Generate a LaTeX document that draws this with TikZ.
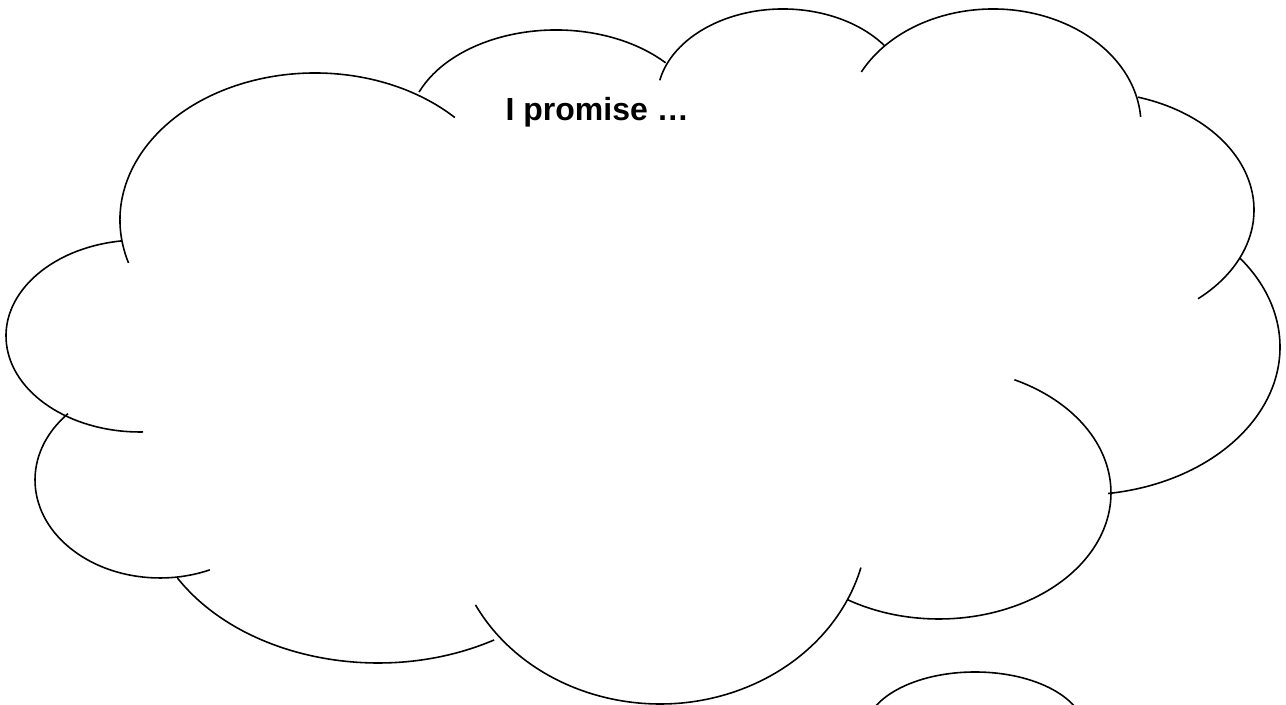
\documentclass[tikz,border=0pt]{standalone}
\usepackage{fontspec}
\setmainfont{Liberation Sans}

\begin{document}
\begin{tikzpicture}[font=\fontsize{9.1}{11}\selectfont\bfseries,
  cl/.style={draw=black, line width=0.45pt},
  bub/.style={draw=black, line width=0.45pt}]
\useasboundingbox (0,0) rectangle (12.86,7.05);
\clip (0,0) rectangle (12.86,7.05);
% lobes of the cloud, left side going round
\draw[cl] (1.40,3.69) ++(97.7:1.34 and 0.96) arc[start angle=97.7, end angle=271.3, x radius=1.34, y radius=0.96];
\draw[cl] (1.60,2.25) ++(137.4:1.25 and 0.98) arc[start angle=137.4, end angle=293.5, x radius=1.25, y radius=0.98];
\draw[cl] (3.78,2.15) ++(210.6:2.33 and 1.73) arc[start angle=210.6, end angle=299.9, x radius=2.33, y radius=1.73];
\draw[cl] (6.60,1.85) ++(207.5:2.08 and 1.84) arc[start angle=207.5, end angle=345, x radius=2.08, y radius=1.84];
\draw[cl] (9.39,2.12) ++(237.8:1.72 and 1.26) arc[start angle=237.8, end angle=424, x radius=1.72, y radius=1.26];
\draw[cl] (10.80,3.58) ++(278.1:2.00 and 1.48) arc[start angle=278.1, end angle=397, x radius=2.00, y radius=1.48];
\draw[cl] (10.90,4.95) ++(73:1.64 and 1.18) arc[start angle=73, end angle=-48.8, x radius=1.64, y radius=1.18];
\draw[cl] (9.93,5.80) ++(152.8:1.48 and 1.16) arc[start angle=152.8, end angle=4, x radius=1.48, y radius=1.16];
\draw[cl] (7.83,6.06) ++(168:1.26 and 0.90) arc[start angle=168, end angle=36, x radius=1.26, y radius=0.90];
\draw[cl] (5.56,5.75) ++(157.7:1.48 and 1.00) arc[start angle=157.7, end angle=42.2, x radius=1.48, y radius=1.00];
\draw[cl] (3.15,4.85) ++(197:1.95 and 1.47) arc[start angle=197, end angle=44.2, x radius=1.95, y radius=1.47];
% thought bubble
\draw[bub] (9.75,-0.27) ellipse[x radius=1.10, y radius=0.60];
\node[anchor=base west, inner sep=0pt] (promise) at (5.05,5.84) {I promise …};
\end{tikzpicture}
\end{document}
